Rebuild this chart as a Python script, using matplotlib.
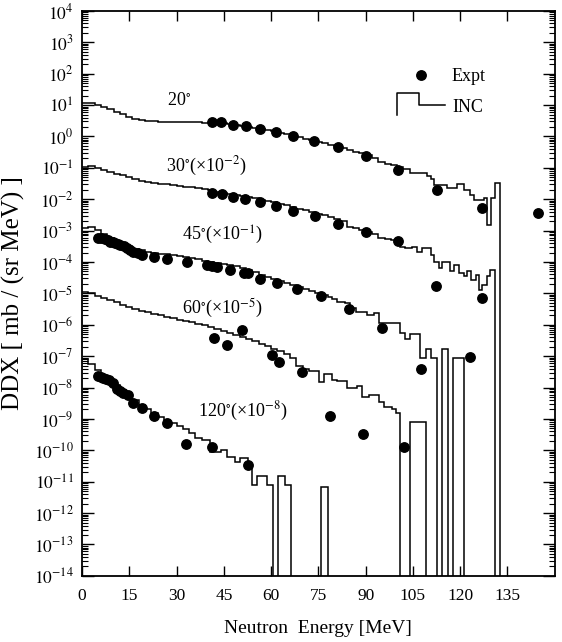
import numpy as np
import matplotlib
matplotlib.use("Agg")
import matplotlib.pyplot as plt
from matplotlib.legend_handler import HandlerBase
from matplotlib.lines import Line2D
from matplotlib.ticker import LogLocator, NullFormatter

plt.rcParams['font.family'] = ['Liberation Serif', 'DejaVu Serif']
plt.rcParams['mathtext.fontset'] = 'stix'

# ---- INC histograms: log10 values, 2 MeV bins from 0, then irregular tail bins
# None = empty bin (line drops to the bottom)
inc20_reg = [1.07, 1.06, 1.01, 0.94, 0.86, 0.78, 0.70, 0.63, 0.57, 0.53,
             0.50, 0.48, 0.47, 0.47, 0.46, 0.46, 0.46, 0.45, 0.45, 0.44,
             0.44, 0.44, 0.42, 0.39, 0.36, 0.34, 0.31, 0.27, 0.23, 0.20,
             0.16, 0.12, 0.07, 0.03, -0.02, -0.07, -0.12, -0.17, -0.21, -0.26,
             -0.31, -0.36, -0.42, -0.48, -0.54, -0.58, -0.70]
inc20_tail_e = [94, 96, 98, 100, 102, 104.2, 109.5, 110.6, 111.6, 115.9, 119.1,
                121.2, 123.1, 124.4, 127.5, 128.6, 129.9, 131.2, 132.6, 134]
inc20_tail = [-0.82, -0.87, -0.92, -0.98, -1.05, -1.17, -1.26, -1.36, -1.54,
              -1.65, -1.52, -1.70, -1.86, -2.04, -1.97, -2.82, -1.97, -1.47, None]

inc30_reg = [-0.97, -0.94, -1.02, -1.08, -1.14, -1.19, -1.24, -1.30, -1.36, -1.41,
             -1.45, -1.48, -1.51, -1.53, -1.55, -1.57, -1.60, -1.62, -1.65, -1.68,
             -1.72, -1.76, -1.79, -1.82, -1.86, -1.90, -1.94, -1.97, -2.01, -2.05,
             -2.09, -2.14, -2.19, -2.24, -2.30, -2.35, -2.42, -2.47, -2.51, -2.56,
             -2.64, -2.70, -2.88, -2.92, -2.97, -3.04, -3.12]
inc30_tail_e = [94, 96, 98, 101, 102.6, 104.8, 106.3, 107.9, 110.6, 111.6, 113.2,
                114.3, 116.9, 118, 119.6, 121.2, 122.2, 123.3, 124.9, 125.9, 127,
                128.4, 129.6, 131.2, 132]
inc30_tail = [-3.22, -3.27, -3.30, -3.53, -3.56, -3.53, -3.67, -3.56, -3.77, -3.99,
              -4.20, -3.99, -4.30, -4.09, -4.36, -4.46, -4.30, -4.57, -4.41, -4.89,
              -4.73, -4.46, -4.25, None]

inc45_reg = [-2.92, -2.90, -2.98, -3.10, -3.22, -3.33, -3.42, -3.50, -3.57, -3.63,
             -3.67, -3.70, -3.73, -3.76, -3.79, -3.82, -3.85, -3.88, -3.92, -3.96,
             -4.00, -4.04, -4.07, -4.10, -4.14, -4.19, -4.26, -4.33, -4.40, -4.47,
             -4.54, -4.60, -4.66, -4.72, -4.80, -4.86, -4.93, -5.00, -5.06]
inc45_tail_e = [78, 79.3, 81, 83.6, 85, 86.8, 90.5, 92.6, 94.2, 97.3, 101, 102.6,
                104.2, 107.4, 109, 110.6, 112.7, 114.3, 116.1, 117.7, 121.2, 122]
inc45_tail = [-5.12, -5.18, -5.26, -5.31, -5.45, -5.58, -5.68, -5.63, -5.95, -5.93,
              -6.27, -6.46, -6.29, -7.06, -6.78, -7.06, None, -6.78, None, -7.06, None]

inc60_reg = [-4.94, -5.00, -5.08, -5.15, -5.22, -5.29, -5.36, -5.43, -5.49, -5.55,
             -5.60, -5.65, -5.70, -5.75, -5.79, -5.84, -5.88, -5.92, -5.97, -6.02,
             -6.08, -6.14, -6.20, -6.26, -6.32, -6.38, -6.44, -6.51, -6.60, -6.68,
             -6.76, -6.84, -6.93, -7.05, -7.30, -7.40]
inc60_tail_e = [72, 75.1, 76.7, 79.3, 80.9, 84.1, 87.3, 88.9, 91, 94.2, 95.7, 98.4,
                99.5, 101, 104.2, 109.3, 110]
inc60_tail = [-7.48, -7.81, -7.56, -7.76, -7.80, -8.02, -7.95, -8.29, -8.25, -8.45,
              -8.61, -8.69, -8.82, None, -9.11, None]

inc120_reg = [-7.10, -7.25, -7.45, -7.62, -7.78, -7.93, -8.08, -8.24, -8.40, -8.56,
              -8.69, -8.82, -8.93, -9.03, -9.13, -9.22, -9.32]
inc120_tail_e = [34, 36, 38, 40.7, 44, 46, 48.6, 50.2, 52.8, 53.9, 55.5, 58.7, 60.6,
                 62.1, 64.4, 66.2, 75.7, 77.9, 79]
inc120_tail = [-9.45, -9.60, -9.67, -10.04, -9.99, -10.20, -10.36, -10.25, -10.50,
               -11.10, -10.81, -11.10, None, -10.81, -11.10, None, -11.17, None]

# ---- experimental points (energy MeV, log10 DDX)
e20 = [41.3, 44.2, 48.0, 52.1, 56.6, 61.6, 67.0, 73.7, 81.3, 90.2, 100.4, 112.7, 127.0, 144.6]
l20 = [0.46, 0.46, 0.37, 0.34, 0.24, 0.15, 0.02, -0.14, -0.33, -0.62, -1.07, -1.70, -2.29, -2.44]

e30 = [41.3, 44.5, 48.0, 51.8, 56.6, 61.6, 67.0, 74.0, 81.3, 90.2, 100.2, 112.2, 127.0]
l30 = [-1.80, -1.83, -1.93, -1.99, -2.08, -2.21, -2.37, -2.53, -2.79, -3.04, -3.32, -4.78, -5.15]

e45 = [5.2, 6.0, 7.3, 8.1, 8.9, 9.7, 10.5, 11.3, 12.1, 13.2, 14.2, 15.3, 16.3, 17.6,
       19.0, 22.9, 27.1, 33.3, 39.6, 41.2, 42.8, 47.0, 51.3, 52.8, 56.6, 61.9, 68.2,
       75.8, 84.6, 95.2, 107.6, 123.1]
l45 = [-3.24, -3.25, -3.27, -3.31, -3.35, -3.37, -3.40, -3.42, -3.45, -3.50, -3.56,
       -3.61, -3.67, -3.72, -3.77, -3.85, -3.90, -3.99, -4.09, -4.12, -4.15, -4.25,
       -4.36, -4.34, -4.55, -4.66, -4.87, -5.08, -5.50, -6.09, -7.41, -7.04]

e60 = [41.9, 46.0, 50.7, 60.3, 62.4, 69.8, 78.6, 89.2, 102.1]
l60 = [-6.43, -6.64, -6.16, -6.96, -7.19, -7.52, -8.92, -9.49, -9.88]

e120 = [5.2, 6.0, 6.8, 7.6, 8.4, 9.9, 11.0, 12.0, 13.1, 14.7, 16.3, 19.0, 22.9, 27.1,
        33.0, 41.2, 52.8]
l120 = [-7.63, -7.66, -7.70, -7.73, -7.76, -7.86, -8.05, -8.10, -8.18, -8.23, -8.50,
        -8.66, -8.92, -9.12, -9.79, -9.88, -10.46]

labels = [r"20$^{\circ}$", r"30$^{\circ}$(×10$^{-2}$)", r"45$^{\circ}$(×10$^{-1}$)",
          r"60$^{\circ}$(×10$^{-5}$)", r"120$^{\circ}$(×10$^{-8}$)"]
label_pos = [(27.0, 1.13), (26.7, -0.97), (31.8, -3.14), (31.8, -5.49), (36.9, -8.77)]

xticks = [0, 15, 30, 45, 60, 75, 90, 105, 120, 135]
yexps = list(range(4, -15, -1))


def build(reg, tail_e, tail_v):
    edges = np.concatenate([np.arange(len(reg)) * 2.0, tail_e])
    vals = np.array([(-30.0 if v is None else v) for v in reg + tail_v])
    return edges, 10.0 ** vals


class StepHandler(HandlerBase):
    def create_artists(self, legend, orig_handle, xdescent, ydescent,
                       width, height, fontsize, trans):
        yc = height / 2 - ydescent
        x0 = -xdescent
        x = [x0, x0, x0 + 0.46 * width, x0 + 0.46 * width, x0 + width]
        y = [yc - 0.55 * fontsize, yc + 0.7 * fontsize, yc + 0.7 * fontsize, yc, yc]
        return [Line2D(x, y, color='k', lw=1.1, transform=trans)]


fig = plt.figure(figsize=(5.62, 6.42), dpi=100)
ax = fig.add_axes([0.146, 0.103, 0.841, 0.880])
ax.set_yscale('log')

for reg, te, tv in [(inc20_reg, inc20_tail_e, inc20_tail),
                    (inc30_reg, inc30_tail_e, inc30_tail),
                    (inc45_reg, inc45_tail_e, inc45_tail),
                    (inc60_reg, inc60_tail_e, inc60_tail),
                    (inc120_reg, inc120_tail_e, inc120_tail)]:
    edges, vals = build(reg, te, tv)
    ax.stairs(vals, edges, baseline=None, color='k', lw=1.1)

for e, l in [(e20, l20), (e30, l30), (e45, l45), (e60, l60), (e120, l120)]:
    ax.plot(e, 10.0 ** np.array(l), 'o', color='k', ms=6.8, mec='k')

for txt, (x, ly) in zip(labels, label_pos):
    ax.text(x, 10 ** ly, txt, fontsize=13, va='center', ha='left')

ax.set_xlim(0, 150)
ax.set_ylim(1e-14, 1e4)
ax.set_xticks(xticks)
ax.set_xticklabels([str(t) for t in xticks])
ax.set_yticks([10.0 ** k for k in yexps])
ax.set_yticklabels([r"$10^{%d}$" % k for k in yexps])
ax.yaxis.set_minor_locator(LogLocator(base=10, subs=np.arange(2, 10), numticks=100))
ax.yaxis.set_minor_formatter(NullFormatter())
ax.tick_params(axis='x', which='major', direction='in', length=7, width=1,
               top=True, labelsize=12.5, pad=9)
ax.tick_params(axis='y', which='major', direction='in', length=8.5, width=1,
               right=True, labelsize=12.5, pad=6)
ax.tick_params(axis='y', which='minor', direction='in', length=4.5, width=0.8,
               right=True)
for s in ax.spines.values():
    s.set_linewidth(1.3)

ax.set_xlabel("Neutron  Energy [MeV]", fontsize=14)
ax.set_ylabel("DDX [ mb / (sr MeV) ]", fontsize=18)
ax.xaxis.set_label_coords(0.5, -0.078)
ax.yaxis.set_label_coords(-0.12, 0.5)

h_expt = Line2D([], [], ls='none', marker='o', color='k', ms=6.8)
h_inc = Line2D([], [], color='k')
ax.legend([h_expt, h_inc], ["Expt", "INC"], loc='upper left',
          bbox_to_anchor=(0.666, 0.899), frameon=False, fontsize=13,
          handlelength=2.66, handletextpad=0.39, labelspacing=0.75,
          borderpad=0, borderaxespad=0, handler_map={h_inc: StepHandler()})

fig.savefig("out.png", dpi=100)
